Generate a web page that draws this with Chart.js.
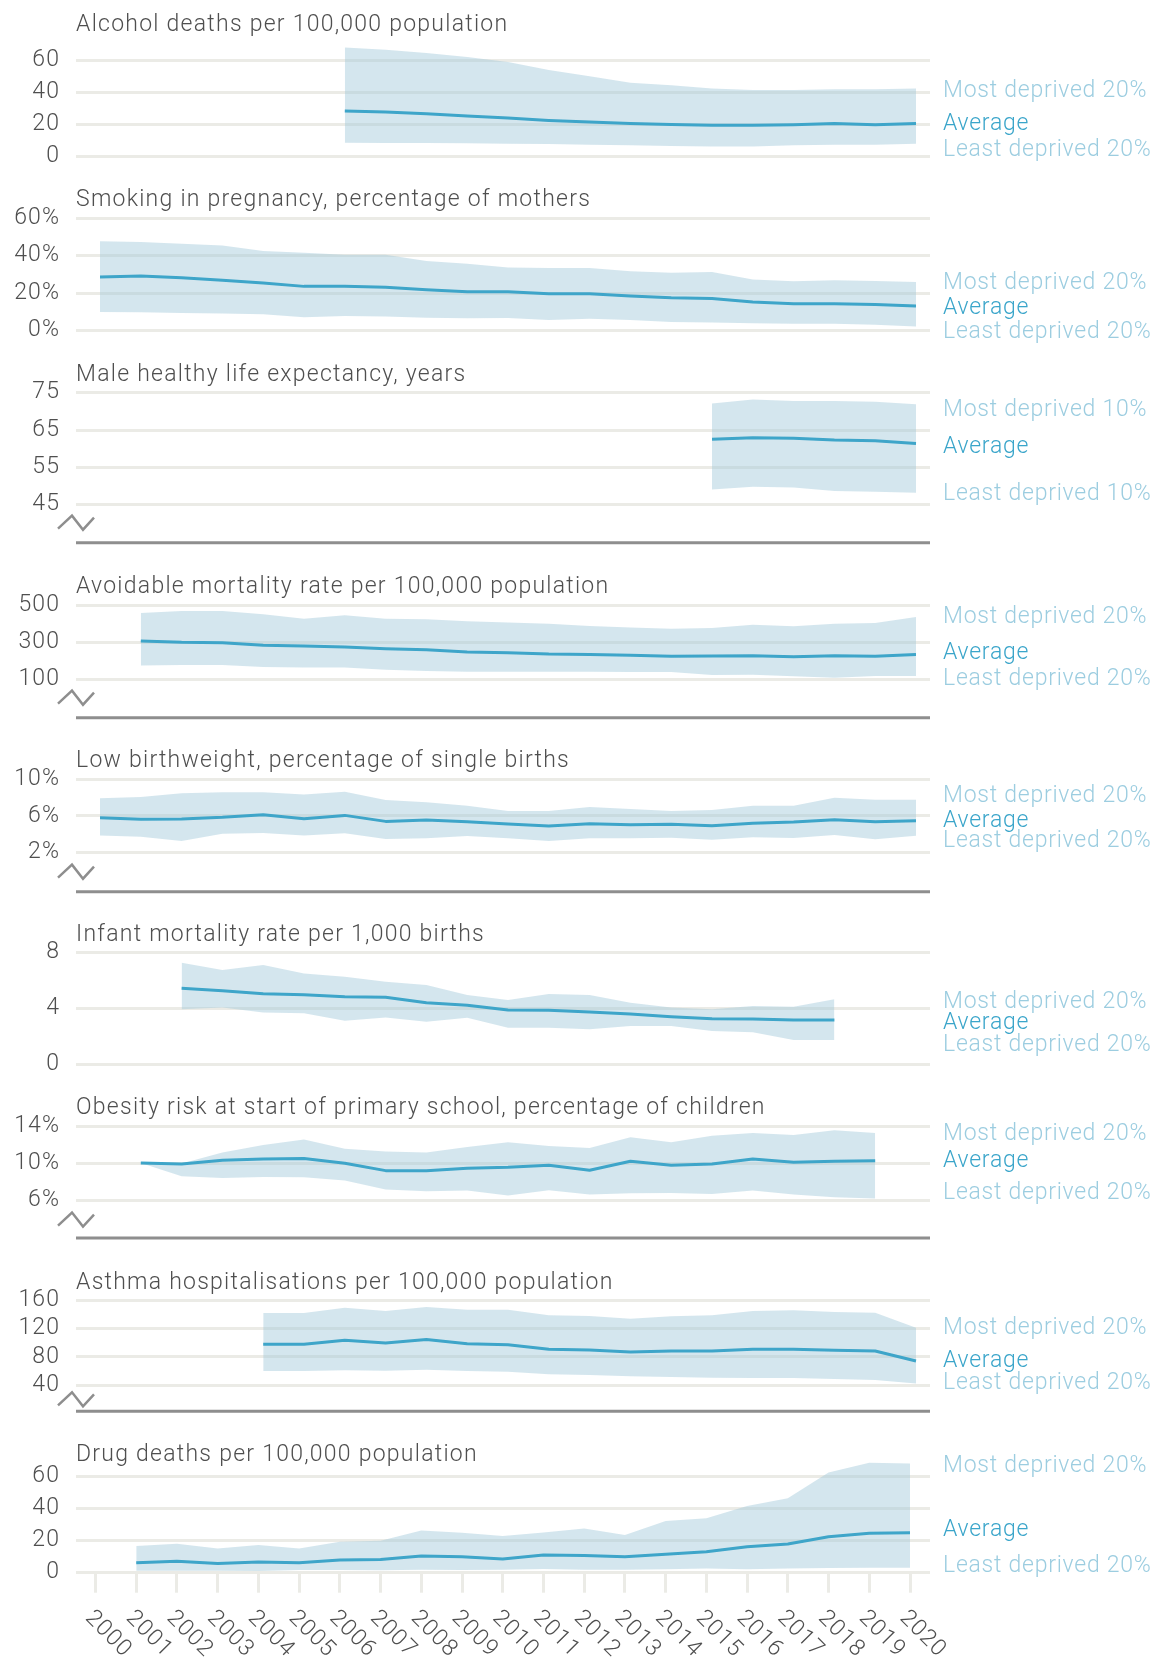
<!DOCTYPE html>
<html><head><meta charset="utf-8">
<script src="https://cdn.jsdelivr.net/npm/chart.js@4.4.1/dist/chart.umd.min.js"></script>
<style>
html,body{margin:0;padding:0;background:#fff;}
#wrap{position:relative;width:1160px;height:1657px;overflow:hidden;background:#fff;}
#wrap canvas{position:absolute;left:0;}
</style></head><body><div id="wrap"></div>
<script>
// ---------- DATA ----------
const xTickYears = [2000,2001,2002,2003,2004,2005,2006,2007,2008,2009,2010,2011,2012,2013,2014,2015,2016,2017,2018,2019,2020];
const quintileLabels = ["Most deprived 20%", "Average", "Least deprived 20%"];
const decileLabels = ["Most deprived 10%", "Average", "Least deprived 10%"];

const alcoholTitle = "Alcohol deaths per 100,000 population";
const alcoholYears = [2006,2007,2008,2009,2010,2011,2012,2013,2014,2015,2016,2017,2018,2019,2020];
const alcoholMost  = [68, 66.5, 64.5, 62, 59, 54, 50, 46, 44.5, 42.5, 41.5, 41.5, 42, 42, 42.5];
const alcoholAvg   = [28.4, 27.8, 26.8, 25.3, 24.1, 22.6, 21.6, 20.6, 20.1, 19.5, 19.5, 19.9, 20.6, 19.9, 20.6];
const alcoholLeast = [8.7, 8.5, 8.5, 8.3, 8.1, 7.9, 7.5, 7.1, 6.6, 6.4, 6.4, 7.1, 7.5, 7.5, 8.1];
const alcoholTicks = [0, 20, 40, 60];

const smokingTitle = "Smoking in pregnancy, percentage of mothers";
const smokingYears = [2000,2001,2002,2003,2004,2005,2006,2007,2008,2009,2010,2011,2012,2013,2014,2015,2016,2017,2018,2019,2020];
const smokingMost  = [47.6, 47.2, 46.3, 45.4, 42.4, 41.5, 40.5, 40.5, 37.1, 35.7, 33.6, 33.4, 33.4, 31.6, 30.9, 31.2, 27.2, 26.3, 26.8, 26.5, 25.9];
const smokingAvg   = [28.6, 29.1, 28.2, 26.8, 25.4, 23.6, 23.6, 23.1, 21.8, 20.8, 20.8, 19.7, 19.7, 18.5, 17.6, 17.2, 15.3, 14.4, 14.4, 14.0, 13.1];
const smokingLeast = [9.9, 9.8, 9.4, 9.1, 8.7, 7.1, 7.8, 7.5, 6.9, 6.6, 6.7, 5.7, 6.4, 5.7, 4.6, 4.3, 3.9, 3.7, 3.7, 3.2, 2.3];
const smokingTicks = [0, 20, 40, 60];

const hleTitle = "Male healthy life expectancy, years";
const hleYears = [2015,2016,2017,2018,2019,2020];
const hleMost  = [72.1, 73.2, 72.8, 72.8, 72.6, 71.9];
const hleAvg   = [62.5, 62.9, 62.8, 62.3, 62.1, 61.4];
const hleLeast = [49.1, 49.8, 49.6, 48.7, 48.5, 48.2];
const hleTicks = [45, 55, 65, 75];

const avoidTitle = "Avoidable mortality rate per 100,000 population";
const avoidYears = [2001,2002,2003,2004,2005,2006,2007,2008,2009,2010,2011,2012,2013,2014,2015,2016,2017,2018,2019,2020];
const avoidMost  = [459, 470, 470, 452, 428, 446, 428, 425, 414, 407, 401, 389, 380, 374, 378, 396, 387, 401, 405, 437];
const avoidAvg   = [308, 301, 299, 285, 281, 276, 267, 261, 249, 245, 238, 236, 231, 226, 227, 229, 224, 229, 226, 236];
const avoidLeast = [177, 179, 179, 168, 166, 165, 154, 147, 143, 143, 143, 143, 141, 141, 125, 127, 118, 111, 120, 120];
const avoidTicks = [100, 300, 500];

const lbwTitle = "Low birthweight, percentage of single births";
const lbwYears = [2000,2001,2002,2003,2004,2005,2006,2007,2008,2009,2010,2011,2012,2013,2014,2015,2016,2017,2018,2019,2020];
const lbwMost  = [7.9, 8.05, 8.44, 8.55, 8.55, 8.33, 8.62, 7.72, 7.47, 7.1, 6.52, 6.52, 6.96, 6.74, 6.52, 6.63, 7.1, 7.1, 7.97, 7.76, 7.76];
const lbwAvg   = [5.8, 5.62, 5.66, 5.84, 6.13, 5.69, 6.05, 5.4, 5.55, 5.37, 5.11, 4.9, 5.15, 5.04, 5.08, 4.93, 5.19, 5.33, 5.58, 5.37, 5.48];
const lbwLeast = [3.88, 3.74, 3.27, 4.06, 4.14, 3.88, 4.1, 3.48, 3.56, 3.81, 3.56, 3.27, 3.56, 3.56, 3.63, 3.41, 3.67, 3.59, 3.92, 3.45, 3.85];
const lbwTicks = [2, 6, 10];

const infantTitle = "Infant mortality rate per 1,000 births";
const infantYears = [2002,2003,2004,2005,2006,2007,2008,2009,2010,2011,2012,2013,2014,2015,2016,2017,2018];
const infantMost  = [7.28, 6.75, 7.11, 6.51, 6.28, 5.92, 5.68, 4.96, 4.6, 5.03, 4.96, 4.41, 4.07, 3.93, 4.17, 4.12, 4.65];
const infantAvg   = [5.44, 5.27, 5.05, 4.98, 4.84, 4.79, 4.41, 4.22, 3.88, 3.86, 3.74, 3.59, 3.4, 3.26, 3.23, 3.16, 3.16];
const infantLeast = [3.93, 4.07, 3.71, 3.64, 3.11, 3.35, 3.04, 3.33, 2.61, 2.61, 2.49, 2.73, 2.73, 2.37, 2.28, 1.72, 1.72];
const infantTicks = [0, 4, 8];

const obesityTitle = "Obesity risk at start of primary school, percentage of children";
const obesityYears = [2001,2002,2003,2004,2005,2006,2007,2008,2009,2010,2011,2012,2013,2014,2015,2016,2017,2018,2019];
const obesityMost  = [10.1, 10.0, 11.2, 12.0, 12.6, 11.6, 11.3, 11.2, 11.8, 12.3, 11.9, 11.7, 12.85, 12.3, 13.0, 13.3, 13.1, 13.6, 13.3];
const obesityAvg   = [10.07, 9.96, 10.36, 10.5, 10.54, 10.04, 9.24, 9.24, 9.5, 9.6, 9.82, 9.28, 10.25, 9.82, 9.96, 10.5, 10.14, 10.25, 10.32];
const obesityLeast = [10.07, 8.63, 8.45, 8.56, 8.52, 8.16, 7.19, 7.0, 7.08, 6.54, 7.12, 6.65, 6.79, 6.83, 6.72, 7.08, 6.65, 6.36, 6.22];
const obesityTicks = [6, 10, 14];

const asthmaTitle = "Asthma hospitalisations per 100,000 population";
const asthmaYears = [2004,2005,2006,2007,2008,2009,2010,2011,2012,2013,2014,2015,2016,2017,2018,2019,2020];
const asthmaMost  = [142.1, 142.1, 149.6, 145, 150.6, 146.8, 146.8, 138.8, 137.9, 134.1, 137.4, 138.8, 145, 145.9, 143.5, 142.6, 121.4];
const asthmaAvg   = [97.9, 97.9, 103.5, 99.8, 104.5, 98.8, 97.4, 90.8, 89.9, 87.1, 88.5, 88.5, 90.8, 90.8, 89.4, 88.5, 74.4];
const asthmaLeast = [60.2, 60.2, 61.2, 60.7, 62.1, 60.2, 59.3, 55.5, 54.6, 52.7, 51.8, 50.8, 50.4, 50.4, 48.9, 47.5, 42.4];
const asthmaTicks = [40, 80, 120, 160];

const drugTitle = "Drug deaths per 100,000 population";
const drugYears = [2001,2002,2003,2004,2005,2006,2007,2008,2009,2010,2011,2012,2013,2014,2015,2016,2017,2018,2019,2020];
const drugMost  = [16.7, 18.1, 15.2, 17.3, 15.2, 19.4, 20, 26.3, 25, 22.9, 25.2, 27.7, 23.5, 32.3, 34, 41.7, 46.5, 62.7, 68.75, 68.3];
const drugAvg   = [6.25, 7.1, 5.8, 6.7, 6.25, 7.9, 8.3, 10.4, 10, 8.5, 11, 10.8, 10, 11.5, 13.1, 16.25, 17.9, 22.5, 24.6, 25];
const drugLeast = [1.25, 1.25, 1.25, 1.0, 1.7, 1.7, 1.5, 1.9, 1.7, 1.9, 2.3, 1.9, 1.9, 2.1, 2.7, 2.1, 2.7, 2.9, 3.1, 3.1];
const drugTicks = [0, 20, 40, 60];

// ---------- STYLE ----------
const FONT = "Roboto, 'Liberation Sans', sans-serif";
const TEXT = '#4f4f4f';
const GRID = '#ebebe6';
const BAND = 'rgba(160,200,217,0.45)';
const LINE = '#3ea5c9';
const LABEL_LIGHT = '#9ccde0';
const LABEL_AVG = '#3aa5ca';
const AXISDARK = '#8e8e8e';
const SPACING = '1.1px';
const TITLE_SPACING = '1.25px';
const LABEL_SPACING = '0.75px';
const TITLE_OFF = 30;

// panels: data refs + layout (title centre, chart area, label anchors)
const panels = [
  {title: alcoholTitle, years: alcoholYears, most: alcoholMost, avg: alcoholAvg, least: alcoholLeast, ticks: alcoholTicks, suffix: '', yMin: 0, yMax: 70,
   tc: 24.5, areaTop: 43.7, areaBottom: 156.2, padBottom: 32, labels: quintileLabels, labelAt: [40.9, 19.9, 4.2]},
  {title: smokingTitle, years: smokingYears, most: smokingMost, avg: smokingAvg, least: smokingLeast, ticks: smokingTicks, suffix: '%', yMin: 0, yMax: 60,
   tc: 199.5, areaTop: 217.5, areaBottom: 330.2, padBottom: 32, labels: quintileLabels, labelAt: [25.0, 12.1, -0.7]},
  {title: hleTitle, years: hleYears, most: hleMost, avg: hleAvg, least: hleLeast, ticks: hleTicks, suffix: '', yMin: 45, yMax: 75,
   tc: 374.8, areaTop: 392.5, areaBottom: 504.5, padBottom: 45, labels: decileLabels, labelAt: [70.4, 60.5, 47.9], brk: {zig: 11, line: 38}},
  {title: avoidTitle, years: avoidYears, most: avoidMost, avg: avoidAvg, least: avoidLeast, ticks: avoidTicks, suffix: '', yMin: 100, yMax: 500,
   tc: 586.5, areaTop: 604.8, areaBottom: 679.2, padBottom: 45, labels: quintileLabels, labelAt: [437, 240, 105], brk: {zig: 11, line: 38}},
  {title: lbwTitle, years: lbwYears, most: lbwMost, avg: lbwAvg, least: lbwLeast, ticks: lbwTicks, suffix: '%', yMin: 2, yMax: 10,
   tc: 760.8, areaTop: 778.8, areaBottom: 852.5, padBottom: 45, labels: quintileLabels, labelAt: [8.08, 5.44, 3.19], brk: {zig: 12, line: 39}},
  {title: infantTitle, years: infantYears, most: infantMost, avg: infantAvg, least: infantLeast, ticks: infantTicks, suffix: '', yMin: 0, yMax: 8,
   tc: 934.8, areaTop: 952.5, areaBottom: 1063.8, padBottom: 32, labels: quintileLabels, labelAt: [4.41, 2.92, 1.37]},
  {title: obesityTitle, years: obesityYears, most: obesityMost, avg: obesityAvg, least: obesityLeast, ticks: obesityTicks, suffix: '%', yMin: 6, yMax: 14,
   tc: 1108.2, areaTop: 1126.8, areaBottom: 1200.8, padBottom: 45, labels: quintileLabels, labelAt: [13.2, 10.25, 6.82], brk: {zig: 12, line: 37.5}},
  {title: asthmaTitle, years: asthmaYears, most: asthmaMost, avg: asthmaAvg, least: asthmaLeast, ticks: asthmaTicks, suffix: '', yMin: 40, yMax: 160,
   tc: 1282.5, areaTop: 1299.8, areaBottom: 1384.8, padBottom: 35, labels: quintileLabels, labelAt: [120, 74.3, 42.3], brk: {zig: 7, line: 26}},
  {title: drugTitle, years: drugYears, most: drugMost, avg: drugAvg, least: drugLeast, ticks: drugTicks, suffix: '', yMin: 0, yMax: 70,
   tc: 1454.8, areaTop: 1460.5, areaBottom: 1572.5, padBottom: 0, labels: quintileLabels, labelAt: [66.7, 26.7, 4.2], xAxis: true}
];

const spacing = {
  id: 'spacing',
  beforeInit(chart) { chart.ctx.letterSpacing = SPACING; },
  beforeLayout(chart) { chart.ctx.letterSpacing = SPACING; },
  beforeDraw(chart) { chart.ctx.letterSpacing = SPACING; }
};

const decor = {
  id: 'decor',
  afterDraw(chart, args, opts) {
    const p = opts.panel;
    const {ctx, chartArea: a} = chart;
    const y = chart.scales.y, x = chart.scales.x;
    ctx.save();
    ctx.font = '300 23px ' + FONT;
    ctx.textBaseline = 'middle';
    ctx.textAlign = 'left';
    // title
    ctx.letterSpacing = TITLE_SPACING;
    ctx.fillStyle = TEXT;
    ctx.fillText(p.title, a.left, TITLE_OFF);
    // right-hand labels
    ctx.letterSpacing = LABEL_SPACING;
    p.labels.forEach((t, i) => {
      ctx.fillStyle = i === 1 ? LABEL_AVG : LABEL_LIGHT;
      ctx.fillText(t, a.right + 13, y.getPixelForValue(p.labelAt[i]));
    });
    // axis break
    if (p.brk) {
      const b = a.bottom, l = a.left, z = p.brk.zig;
      ctx.strokeStyle = AXISDARK;
      ctx.lineWidth = 2.5;
      ctx.beginPath();
      ctx.moveTo(l - 18, b + z + 13);
      ctx.lineTo(l - 4, b + z);
      ctx.lineTo(l + 7, b + z + 14);
      ctx.lineTo(l + 18, b + z + 2);
      ctx.stroke();
      ctx.lineWidth = 3;
      ctx.beginPath();
      ctx.moveTo(a.left, b + p.brk.line);
      ctx.lineTo(a.right, b + p.brk.line);
      ctx.stroke();
    }
    // rotated year labels
    if (p.xAxis) {
      ctx.letterSpacing = SPACING;
      ctx.fillStyle = TEXT;
      xTickYears.forEach(yr => {
        const px = x.getPixelForValue(yr);
        ctx.save();
        ctx.translate(px - 7, a.bottom + 42);
        ctx.rotate(Math.PI / 4);
        ctx.fillText(String(yr), 0, 0);
        ctx.restore();
      });
    }
    ctx.restore();
  }
};

const wrap = document.getElementById('wrap');
panels.forEach(p => {
  const top = p.tc - TITLE_OFF;
  const cv = document.createElement('canvas');
  const H = p.xAxis ? Math.ceil(1657 - top) : Math.ceil(p.areaBottom + p.padBottom - top);
  cv.width = 1160; cv.height = H;
  cv.style.width = '1160px'; cv.style.height = H + 'px';
  cv.style.top = top + 'px';
  wrap.appendChild(cv);
  const pts = arr => p.years.map((yr, i) => ({x: yr, y: arr[i]}));
  const xMin = p.xAxis ? 1999.521 : 1999.4118;
  const xMax = p.xAxis ? 2020.491 : 2020.3431;
  const padB = p.xAxis ? 0 : (top + H - p.areaBottom);
  const xHeight = p.xAxis ? (top + H - p.areaBottom) : 0;
  new Chart(cv, {
    type: 'line',
    data: {
      datasets: [
        {label: 'least', data: pts(p.least), borderWidth: 0, pointRadius: 0, fill: false, order: 2, clip: false, borderColor: 'rgba(0,0,0,0)'},
        {label: 'most', data: pts(p.most), borderWidth: 0, pointRadius: 0, fill: '-1', backgroundColor: BAND, order: 1, clip: false, borderColor: 'rgba(0,0,0,0)'},
        {label: 'avg', data: pts(p.avg), borderWidth: 3, borderColor: LINE, pointRadius: 0, fill: false, order: 0, clip: false}
      ]
    },
    options: {
      responsive: false,
      animation: false,
      devicePixelRatio: 1,
      events: [],
      layout: {padding: {top: p.areaTop - top, bottom: padB, left: 0, right: 230}},
      elements: {line: {tension: 0, borderJoinStyle: 'round'}},
      plugins: {legend: {display: false}, tooltip: {enabled: false}, title: {display: false}, decor: {panel: p}},
      scales: {
        x: {
          type: 'linear', min: xMin, max: xMax, display: !!p.xAxis,
          afterBuildTicks: s => { s.ticks = xTickYears.map(v => ({value: v})); },
          afterFit: s => { if (p.xAxis) s.height = xHeight; },
          grid: {drawOnChartArea: false, drawTicks: true, tickLength: 20, color: GRID, lineWidth: 3},
          border: {display: false},
          ticks: {display: false}
        },
        y: {
          type: 'linear', min: p.yMin, max: p.yMax,
          afterBuildTicks: s => { s.ticks = p.ticks.map(v => ({value: v})); },
          afterFit: s => { s.width = 76; },
          grid: {color: GRID, lineWidth: 3, drawTicks: false},
          border: {display: false},
          ticks: {padding: 16, autoSkip: false, color: TEXT, font: {family: FONT, size: 23, weight: 300}, callback: v => v + p.suffix}
        }
      }
    },
    plugins: [spacing, decor]
  });
});
</script>
</body></html>
